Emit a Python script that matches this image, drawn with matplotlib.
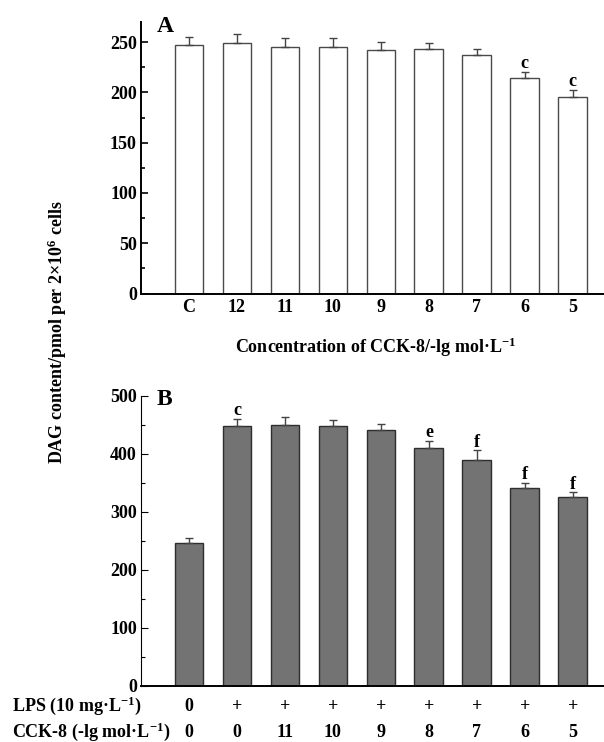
import matplotlib
matplotlib.use("Agg")
import matplotlib.pyplot as plt
import matplotlib.transforms as mtransforms
from matplotlib.ticker import MultipleLocator

plt.rcParams['font.family'] = ['Liberation Serif', 'DejaVu Serif']
plt.rcParams['font.weight'] = 'bold'
plt.rcParams['mathtext.fontset'] = 'custom'
plt.rcParams['mathtext.rm'] = 'Liberation Serif:bold'
plt.rcParams['mathtext.bf'] = 'Liberation Serif:bold'
plt.rcParams['mathtext.it'] = 'Liberation Serif:bold:italic'
plt.rcParams['mathtext.default'] = 'bf'

# ---- data ----
a_labels = ["C", "12", "11", "10", "9", "8", "7", "6", "5"]
a_values = [247, 249.5, 245.5, 245, 242, 243, 237.5, 214, 195]
a_errors = [8, 9, 8.5, 9.5, 8, 6.5, 5.5, 6.5, 7]
a_marks = ["", "", "", "", "", "", "", "c", "c"]

b_values = [246, 448, 450, 448, 441, 409, 389.5, 341, 325]
b_errors = [8, 12, 13, 10, 10.5, 13, 16.5, 9, 9]
b_marks = ["", "c", "", "", "", "e", "f", "f", "f"]
b_lps = ["0", "+", "+", "+", "+", "+", "+", "+", "+"]
b_cck = ["0", "0", "11", "10", "9", "8", "7", "6", "5"]

W, H = 604, 742
fig = plt.figure(figsize=(W / 100, H / 100), dpi=100)

def fx(px):
    return px / W

def fy(py):
    return 1 - py / H

x = list(range(len(a_labels)))
fs = 13

# ---- Panel A ----
axA = fig.add_axes([fx(141), fy(293.5), 1 - fx(141), fy(22) - fy(293.5)])
axA.bar(x, a_values, width=0.6, color='white', edgecolor='#4a4a4a', linewidth=1.0, zorder=2)
axA.errorbar(x, a_values, yerr=[[0] * len(x), a_errors], fmt='none', ecolor='#444444',
             elinewidth=1.0, capsize=3.2, capthick=1.0, zorder=3)
for xi, v, e, m in zip(x, a_values, a_errors, a_marks):
    if m:
        axA.annotate(m, (xi, v + e), xytext=(0, 3), textcoords='offset points',
                     ha='center', va='baseline', fontsize=fs, fontweight='bold')
axA.set_xlim(-1.0, 8.65)
axA.set_ylim(0, 270)
axA.yaxis.set_major_locator(MultipleLocator(50))
axA.yaxis.set_minor_locator(MultipleLocator(25))
axA.set_xticks(x)
axA.set_xticklabels(a_labels)
axA.tick_params(axis='x', length=0, pad=4, labelsize=fs)
axA.tick_params(axis='y', which='major', direction='in', length=5, width=1.2, pad=3, labelsize=fs)
axA.tick_params(axis='y', which='minor', direction='in', length=3, width=1.2)
for s in ['top', 'right']:
    axA.spines[s].set_visible(False)
for s in ['left', 'bottom']:
    axA.spines[s].set_linewidth(1.4)
fig.text(fx(157), fy(32.5), "A", fontsize=17, fontweight='bold', ha='left', va='baseline')
fig.text(fx(376), fy(353), "Concentration of CCK-8/-lg mol·L$^{-1}$", fontsize=fs,
         fontweight='bold', ha='center', va='baseline')

# ---- Panel B ----
axB = fig.add_axes([fx(141), fy(685.7), 1 - fx(141), fy(395.7) - fy(685.7)])
axB.bar(x, b_values, width=0.6, color='#737373', edgecolor='#2e2e2e', linewidth=1.0, zorder=2)
axB.errorbar(x, b_values, yerr=[[0] * len(x), b_errors], fmt='none', ecolor='#444444',
             elinewidth=1.0, capsize=3.2, capthick=1.0, zorder=3)
for xi, v, e, m in zip(x, b_values, b_errors, b_marks):
    if m:
        axB.annotate(m, (xi, v + e), xytext=(0, 2.5), textcoords='offset points',
                     ha='center', va='baseline', fontsize=fs, fontweight='bold')
axB.set_xlim(-1.0, 8.65)
axB.set_ylim(0, 500)
axB.yaxis.set_major_locator(MultipleLocator(100))
axB.yaxis.set_minor_locator(MultipleLocator(50))
axB.set_xticks([])
axB.tick_params(axis='y', which='major', direction='in', length=5, width=0.8, pad=3, labelsize=fs)
axB.tick_params(axis='y', which='minor', direction='in', length=3, width=0.8)
for s in ['top', 'right']:
    axB.spines[s].set_visible(False)
axB.spines['left'].set_linewidth(0.8)
axB.spines['bottom'].set_linewidth(1.4)
fig.text(fx(157), fy(405), "B", fontsize=17, fontweight='bold', ha='left', va='baseline')

trans = mtransforms.blended_transform_factory(axB.transData, fig.transFigure)
for xi, l1, l2 in zip(x, b_lps, b_cck):
    axB.text(xi, fy(711), l1, transform=trans, ha='center', va='baseline',
             fontsize=fs, fontweight='bold', clip_on=False)
    axB.text(xi, fy(737), l2, transform=trans, ha='center', va='baseline',
             fontsize=fs, fontweight='bold', clip_on=False)
fig.text(fx(12), fy(711), "LPS (10 mg·L$^{-1}$)", fontsize=fs, fontweight='bold',
         ha='left', va='baseline')
fig.text(fx(12), fy(737), "CCK-8 (-lg mol·L$^{-1}$)", fontsize=fs, fontweight='bold',
         ha='left', va='baseline')

# ---- shared y label ----
fig.text(fx(57), fy(332), "DAG content/pmol per 2×10$^{6}$ cells", fontsize=fs,
         fontweight='bold', rotation=90, ha='center', va='center')

fig.savefig("out.png", dpi=100)
